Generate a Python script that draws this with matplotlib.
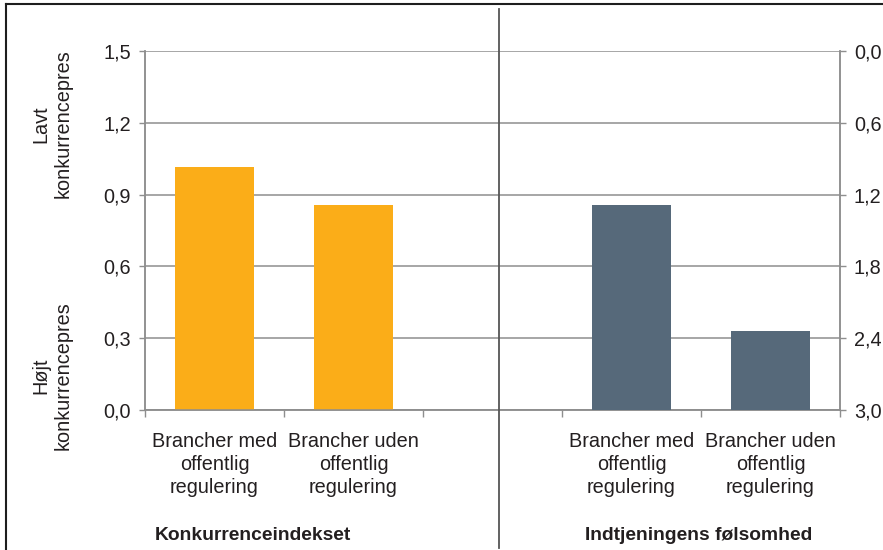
import matplotlib
matplotlib.use("Agg")
import matplotlib.pyplot as plt
from matplotlib.lines import Line2D
from matplotlib.ticker import FuncFormatter

plt.rcParams['font.family'] = ['Liberation Sans', 'DejaVu Sans']

categories = ["Brancher med\noffentlig\nregulering", "Brancher uden\noffentlig\nregulering"]
konkurrence = [1.015, 0.855]     # left axis, 0 = high competition
folsomhed = [1.29, 2.34]          # right axis, inverted 0..3
group_titles = ["Konkurrenceindekset", "Indtjeningens følsomhed"]

orange = "#fbad18"
slate = "#56697a"
grid_c = "#8e8e8e"
txt = "#231f20"
fs = 14.3

fig = plt.figure(figsize=(8.83, 5.5), dpi=100)
ax = fig.add_axes([145/883, 1-410/550, (840-145)/883, (410-51)/550])
ax2 = ax.twinx()

left_pos = [0, 1]
right_pos = [3, 4]
w = 0.57

ax.bar(left_pos, konkurrence, width=w, color=orange, zorder=3)
ax2.bar(right_pos, [v - 3.0 for v in folsomhed], bottom=3.0, width=w, color=slate, zorder=3)

ax.set_xlim(-0.5, 4.5)
ax.set_ylim(0, 1.5)
ax.set_yticks([0, 0.3, 0.6, 0.9, 1.2, 1.5])
ax2.set_ylim(3.0, 0)
ax2.set_yticks([0, 0.6, 1.2, 1.8, 2.4, 3.0])

comma = FuncFormatter(lambda v, p: f"{v:.1f}".replace(".", ","))
ax.yaxis.set_major_formatter(comma)
ax2.yaxis.set_major_formatter(comma)

ax.yaxis.grid(True, color=grid_c, lw=1.1, zorder=0)
ax.set_axisbelow(True)

for a in (ax, ax2):
    a.spines['top'].set_visible(False)
    for s in ('left', 'right', 'bottom'):
        a.spines[s].set_color(grid_c)
        a.spines[s].set_linewidth(1.1)
    a.tick_params(axis='y', length=4, width=1, color=grid_c, labelsize=fs, labelcolor=txt, pad=6)

# category labels under the bars, boundary ticks between slots
ax.set_xticks(left_pos + right_pos)
ax.set_xticklabels(categories + categories, fontsize=fs, color=txt, linespacing=1.27)
ax.tick_params(axis='x', length=0, pad=16)
ax.set_xticks([-0.5, 0.5, 1.5, 2.5, 3.5, 4.5], minor=True)
ax.tick_params(axis='x', which='minor', length=5, width=1, color=grid_c, direction='out')

# y-axis side captions
fig.text(52/883, 1-124/550, "Lavt\nkonkurrencepres", rotation=90, ha='center', va='center',
         fontsize=fs, color=txt, linespacing=1.15)
fig.text(52/883, 1-376/550, "Højt\nkonkurrencepres", rotation=90, ha='center', va='center',
         fontsize=fs, color=txt, linespacing=1.15)

# group titles
fig.text(253/883, 1-535/550, group_titles[0], ha='center', va='center',
         fontsize=13.9, fontweight='bold', color=txt)
fig.text(699/883, 1-535/550, group_titles[1], ha='center', va='center',
         fontsize=13.9, fontweight='bold', color=txt)

# divider between the two panels
fig.add_artist(Line2D([499/883, 499/883], [1-9/550, 1-548/550], color="#555555", lw=1.3))

# frame edges
fig.add_artist(Line2D([6/883, 883/883], [1-4/550, 1-4/550], color="#1e1e1e", lw=1.5))
fig.add_artist(Line2D([6/883, 6/883], [0, 1-4/550], color="#1e1e1e", lw=1.5))

fig.savefig("out.png", dpi=100)
